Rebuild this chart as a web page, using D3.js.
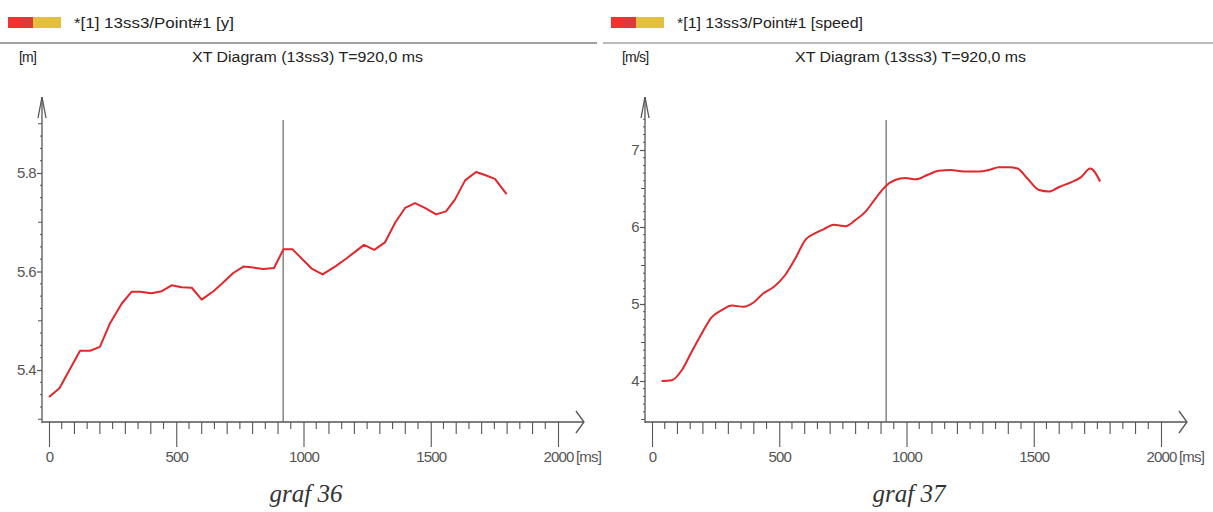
<!DOCTYPE html>
<html><head><meta charset="utf-8">
<script src="https://cdn.jsdelivr.net/npm/d3@7"></script>
<style>
html,body{margin:0;padding:0;background:#fff;}
svg{display:block;}
</style></head>
<body>
<svg id="chart" width="1213" height="512"></svg>
<script>
// ---- data ----
const xTicks = [0, 500, 1000, 1500, 2000];
const cursorTime = 920;

const yTimes = [0,41,122,161,200,240,286,325,358,403,443,482,521,561,600,646,679,724,764,803,842,884,921,957,1032,1075,1124,1170,1215,1238,1278,1320,1360,1399,1438,1477,1521,1560,1595,1635,1678,1713,1752,1798];
const yValues = [5.345,5.363,5.439,5.439,5.447,5.495,5.535,5.559,5.559,5.556,5.56,5.572,5.568,5.567,5.543,5.56,5.575,5.597,5.61,5.608,5.605,5.607,5.645,5.645,5.606,5.594,5.61,5.627,5.645,5.654,5.644,5.659,5.699,5.729,5.739,5.729,5.716,5.722,5.746,5.785,5.802,5.796,5.788,5.757];
const yTickValues = [5.4, 5.6, 5.8];

const speedTimes = [38,78,117,156,196,235,274,314,360,399,438,478,524,563,602,642,674,714,760,799,839,878,915,955,996,1037,1081,1127,1173,1226,1285,1324,1363,1403,1436,1475,1521,1560,1600,1646,1685,1722,1761];
const speedValues = [4.0,4.01,4.14,4.38,4.62,4.83,4.92,4.98,4.965,5.02,5.14,5.22,5.38,5.59,5.83,5.92,5.97,6.03,6.01,6.09,6.20,6.37,6.52,6.61,6.635,6.62,6.675,6.73,6.74,6.72,6.72,6.74,6.775,6.775,6.76,6.63,6.48,6.46,6.52,6.58,6.645,6.76,6.59];
const speedTickValues = [4, 5, 6, 7];

const SANS = "Liberation Sans, Arial, sans-serif";
const SERIF = "Liberation Serif, Times New Roman, serif";

const panels = [
  {ox:0, legend:"*[1] 13ss3/Point#1 [y]", legendW:160, unit:"[m]", title:"XT Diagram (13ss3) T=920,0 ms",
   caption:"graf 36", times:yTimes, values:yValues, ticks:yTickValues, fmt:d3.format(".1f"),
   yDom:[5.4,5.8], yRange:[370,173], minorStep:0.025, midStep:0.1, curve:d3.curveLinear},
  {ox:603, legend:"*[1] 13ss3/Point#1 [speed]", legendW:186, unit:"[m/s]", title:"XT Diagram (13ss3) T=920,0 ms",
   caption:"graf 37", times:speedTimes, values:speedValues, ticks:speedTickValues, fmt:d3.format("d"),
   yDom:[4,7], yRange:[381,150], minorStep:0.1, midStep:0.5, curve:d3.curveMonotoneX}
];

const svg = d3.select("#chart");
const axisColor = "#555";
const lineColor = "#e4262b";
const axisY = 422, axisTop = 97;

panels.forEach(p => {
  const g = svg.append("g").attr("transform", `translate(${p.ox},0)`);
  const yAxisX = 42;
  const x = d3.scaleLinear().domain([0, 2000]).range([49, 558]);
  const y = d3.scaleLinear().domain(p.yDom).range(p.yRange);

  // legend swatch
  g.append("rect").attr("x", 8).attr("y", 17).attr("width", 14).attr("height", 11).attr("fill", "#f03230");
  g.append("rect").attr("x", 21).attr("y", 17).attr("width", 13).attr("height", 11).attr("fill", "#dc3a38");
  g.append("rect").attr("x", 33).attr("y", 17).attr("width", 28).attr("height", 11).attr("fill", "#e2c03e");
  g.append("text").attr("x", 74).attr("y", 28).style("font-family", SANS).attr("font-size", 14).attr("fill", "#222")
    .attr("textLength", p.legendW).attr("lengthAdjust", "spacingAndGlyphs").text(p.legend);

  // separator line
  g.append("line").attr("x1", p.ox === 0 ? 0 : 0).attr("x2", p.ox === 0 ? 597 : 610)
    .attr("y1", 43).attr("y2", 43).attr("stroke", p.ox === 0 ? "#444" : "#777").attr("stroke-width", 1.2);

  // unit & title
  g.append("text").attr("x", 19).attr("y", 62).style("font-family", SANS).attr("font-size", 14).attr("fill", "#222")
    .attr("letter-spacing", -0.8).text(p.unit);
  g.append("text").attr("x", 192).attr("y", 62).style("font-family", SANS).attr("font-size", 14).attr("fill", "#222")
    .attr("textLength", 231).attr("lengthAdjust", "spacingAndGlyphs").text(p.title);

  // y axis minor ticks
  const yMin = y.invert(axisY), yMax = y.invert(axisTop + 22);
  const minor = d3.range(Math.ceil(yMin / p.minorStep) * p.minorStep, yMax, p.minorStep)
    .filter(v => !p.ticks.some(t => Math.abs(t - v) < 1e-6));
  g.selectAll(".ymin").data(minor).join("line")
    .attr("x1", d => yAxisX - (Math.abs(d / p.midStep - Math.round(d / p.midStep)) < 1e-6 ? 4 : 2))
    .attr("x2", yAxisX).attr("y1", d => y(d)).attr("y2", d => y(d))
    .attr("stroke", axisColor).attr("stroke-width", 1);

  // y axis major ticks & labels
  const yAxis = d3.axisLeft(y).tickValues(p.ticks).tickFormat(p.fmt).tickSize(5).tickSizeOuter(0).tickPadding(1);
  const ya = g.append("g").attr("transform", `translate(${yAxisX},0)`).call(yAxis);
  ya.select(".domain").remove();
  ya.selectAll("line").attr("stroke", axisColor).attr("stroke-width", 1.2);
  ya.selectAll("text").style("font-family", SANS).attr("font-size", 15).attr("fill", "#555").attr("letter-spacing", -0.6);

  // y axis line with arrow
  g.append("line").attr("x1", yAxisX).attr("x2", yAxisX).attr("y1", axisY + 1).attr("y2", axisTop)
    .attr("stroke", axisColor).attr("stroke-width", 1.3);
  g.append("path").attr("d", `M${yAxisX - 4},${axisTop + 21}L${yAxisX},${axisTop}L${yAxisX + 4},${axisTop + 21}`)
    .attr("fill", "none").attr("stroke", axisColor).attr("stroke-width", 1.3);

  // x axis ticks
  const xMinor = d3.range(50, 2000, 50).filter(v => v % 500 !== 0);
  g.selectAll(".xmin").data(xMinor).join("line")
    .attr("x1", d => x(d)).attr("x2", d => x(d)).attr("y1", axisY)
    .attr("y2", d => axisY + (d % 100 === 0 ? 12 : 7))
    .attr("stroke", axisColor).attr("stroke-width", 1.1);
  const xAxis = d3.axisBottom(x).tickValues(xTicks).tickFormat(d3.format("d")).tickSize(25).tickSizeOuter(0).tickPadding(4);
  const xa = g.append("g").attr("transform", `translate(0,${axisY})`).call(xAxis);
  xa.select(".domain").remove();
  xa.selectAll("line").attr("stroke", axisColor).attr("stroke-width", 1.1);
  xa.selectAll("text").style("font-family", SANS).attr("font-size", 15).attr("fill", "#555").attr("letter-spacing", -0.8);
  g.append("text").attr("x", x(2000) + 18).attr("y", axisY + 40).style("font-family", SANS).attr("font-size", 15)
    .attr("fill", "#555").attr("letter-spacing", -0.8).text("[ms]");

  // x axis line with arrow
  const xEnd = 584;
  g.append("line").attr("x1", yAxisX).attr("x2", xEnd).attr("y1", axisY).attr("y2", axisY)
    .attr("stroke", axisColor).attr("stroke-width", 1.3);
  g.append("path").attr("d", `M${xEnd - 8},${axisY - 11}L${xEnd},${axisY}L${xEnd - 8},${axisY + 11}`)
    .attr("fill", "none").attr("stroke", axisColor).attr("stroke-width", 1.3);

  // cursor line
  g.append("line").attr("x1", x(cursorTime)).attr("x2", x(cursorTime)).attr("y1", 120).attr("y2", axisY)
    .attr("stroke", "#666").attr("stroke-width", 1.2);

  // data line
  const pts = p.times.map((t, i) => [t, p.values[i]]);
  g.append("path").datum(pts)
    .attr("d", d3.line().x(d => x(d[0])).y(d => y(d[1])).curve(p.curve))
    .attr("fill", "none").attr("stroke", lineColor).attr("stroke-width", 2).attr("stroke-linejoin", "round");

  // caption
  g.append("text").attr("x", 306).attr("y", 502).attr("text-anchor", "middle")
    .style("font-family", SERIF).style("font-style", "italic")
    .attr("font-size", 25).attr("fill", "#333").text(p.caption);
});
</script>
</body></html>
